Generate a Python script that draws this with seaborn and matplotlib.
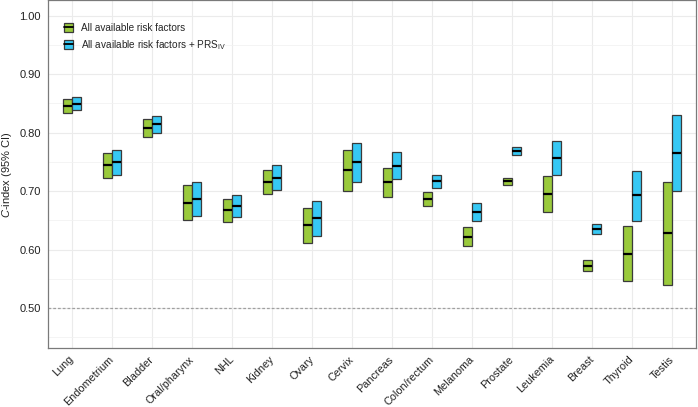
import numpy as np
import pandas as pd
import matplotlib
matplotlib.use("Agg")
import matplotlib.pyplot as plt
import seaborn as sns
from matplotlib.patches import Patch
from matplotlib.lines import Line2D
from matplotlib.legend_handler import HandlerTuple
from matplotlib.ticker import MultipleLocator, FormatStrFormatter

cancers = ["Lung", "Endometrium", "Bladder", "Oral/pharynx", "NHL", "Kidney", "Ovary",
           "Cervix", "Pancreas", "Colon/rectum", "Melanoma", "Prostate", "Leukemia",
           "Breast", "Thyroid", "Testis"]

base_lo  = [0.834, 0.723, 0.793, 0.650, 0.648, 0.695, 0.612, 0.701, 0.690, 0.675, 0.606, 0.710, 0.664, 0.563, 0.546, 0.540]
base_med = [0.846, 0.744, 0.808, 0.680, 0.667, 0.716, 0.642, 0.736, 0.715, 0.686, 0.622, 0.717, 0.695, 0.572, 0.593, 0.628]
base_hi  = [0.857, 0.765, 0.823, 0.710, 0.686, 0.737, 0.672, 0.770, 0.740, 0.698, 0.638, 0.723, 0.726, 0.582, 0.640, 0.715]

prs_lo  = [0.838, 0.727, 0.799, 0.658, 0.655, 0.702, 0.624, 0.715, 0.720, 0.706, 0.649, 0.761, 0.727, 0.627, 0.649, 0.701]
prs_med = [0.849, 0.749, 0.815, 0.687, 0.674, 0.723, 0.654, 0.749, 0.743, 0.717, 0.664, 0.768, 0.756, 0.635, 0.693, 0.766]
prs_hi  = [0.861, 0.770, 0.829, 0.716, 0.693, 0.744, 0.684, 0.783, 0.767, 0.728, 0.679, 0.775, 0.786, 0.644, 0.735, 0.831]

models = ["All available risk factors", "All available risk factors + PRS$_{\\mathrm{IV}}$"]
colors = ["#9ACA3C", "#36C8F4"]

df = pd.concat([
    pd.DataFrame({"cancer": cancers, "model": models[0], "lo": base_lo, "med": base_med, "hi": base_hi}),
    pd.DataFrame({"cancer": cancers, "model": models[1], "lo": prs_lo, "med": prs_med, "hi": prs_hi}),
], ignore_index=True)

sns.set_theme(style="whitegrid")
plt.rcParams["font.family"] = ["Liberation Sans", "DejaVu Sans"]
plt.rcParams["mathtext.fontset"] = "custom"
plt.rcParams["mathtext.rm"] = "Liberation Sans"
plt.rcParams["mathtext.it"] = "Liberation Sans:italic"

fig = plt.figure(figsize=(6.98, 4.07), dpi=100)
ax = fig.add_axes([0.0688, 0.145, 0.9285, 0.854])

edge = "#3a3a3a"
sns.barplot(data=df, x="cancer", y="hi", hue="model", order=cancers, hue_order=models,
            palette=colors, saturation=1, width=0.45, gap=0.06, edgecolor=edge, linewidth=0.9,
            errorbar=None, legend=False, ax=ax, zorder=3)

for cont, m in zip(ax.containers, models):
    sub = df[df["model"] == m].set_index("cancer").loc[cancers]
    for rect, lo, med, hi in zip(cont, sub["lo"], sub["med"], sub["hi"]):
        rect.set_y(lo)
        rect.set_height(hi - lo)
        x0 = rect.get_x()
        ax.hlines(med, x0, x0 + rect.get_width(), color="black", lw=1.6, zorder=4)

ax.axhline(0.5, color="#a0a0a0", ls=(0, (2.2, 1.6)), lw=0.9, zorder=2)

ax.set_xlim(-0.6, 15.6)
ax.set_ylim(0.432, 1.026)
ax.yaxis.set_major_locator(MultipleLocator(0.1))
ax.yaxis.set_minor_locator(MultipleLocator(0.05))
ax.yaxis.set_major_formatter(FormatStrFormatter("%.2f"))

ax.grid(False)
ax.xaxis.grid(True, which="major", color="#EBEBEB", lw=0.8, zorder=0)
ax.yaxis.grid(True, which="major", color="#EBEBEB", lw=0.8, zorder=0)
ax.yaxis.grid(True, which="minor", color="#F2F2F2", lw=0.6, zorder=0)
ax.set_axisbelow(True)

for s in ax.spines.values():
    s.set_color("#7a7a7a")
    s.set_linewidth(0.9)

ax.tick_params(axis="both", which="major", length=3, width=0.7, color="#555555",
               direction="out", labelsize=8, labelcolor="#222222", pad=2)
ax.tick_params(axis="x", which="major", pad=4, labelsize=7.8)
ax.tick_params(axis="y", which="minor", length=0)
plt.setp(ax.get_xticklabels(), rotation=45, ha="right", va="center", rotation_mode="anchor")

ax.set_xlabel("")
ax.set_ylabel("$\\mathit{C}$-index (95% CI)", fontsize=8, color="#222222", labelpad=4)

handles = [(Patch(facecolor=c, edgecolor=edge, linewidth=0.9), Line2D([], [], color="black", lw=1.3))
           for c in colors]
leg = ax.legend(handles, models, handler_map={tuple: HandlerTuple(ndivide=1, pad=0)},
                loc="upper left", bbox_to_anchor=(0.015, 0.952), frameon=False,
                fontsize=7.2, handlelength=0.9, handleheight=1.0, handletextpad=0.8,
                labelspacing=0.5, borderaxespad=0.2)

fig.savefig("out.png", dpi=100)
